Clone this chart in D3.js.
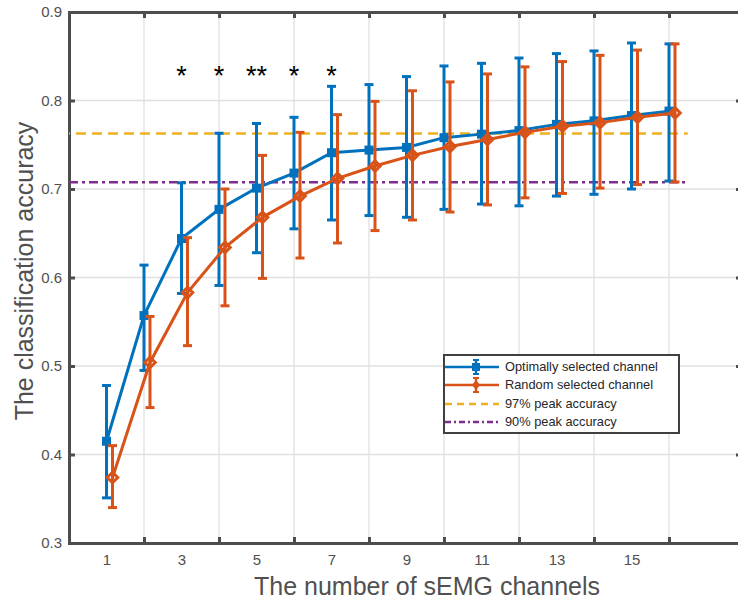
<!DOCTYPE html>
<html><head><meta charset="utf-8">
<script src="https://cdn.jsdelivr.net/npm/d3@7"></script>
<style>body{margin:0;background:#fff}svg{display:block}text{font-family:"Liberation Sans",Arial,sans-serif}</style>
</head><body>
<svg id="c" width="738" height="601"></svg>
<script>
const channels = [1,2,3,4,5,6,7,8,9,10,11,12,13,14,15,16];
const optMean  = [0.415,0.557,0.644,0.677,0.701,0.718,0.741,0.744,0.747,0.758,0.762,0.766,0.773,0.777,0.783,0.788];
const optUpper = [0.478,0.614,0.707,0.763,0.774,0.781,0.816,0.818,0.827,0.839,0.842,0.848,0.853,0.856,0.865,0.864];
const optLower = [0.351,0.495,0.582,0.591,0.628,0.655,0.665,0.670,0.668,0.677,0.683,0.681,0.692,0.694,0.700,0.709];
const rndMean  = [0.374,0.504,0.583,0.634,0.668,0.692,0.712,0.726,0.738,0.748,0.756,0.764,0.771,0.775,0.781,0.786];
const rndUpper = [0.410,0.556,0.645,0.700,0.738,0.764,0.784,0.799,0.811,0.821,0.830,0.838,0.844,0.851,0.857,0.864];
const rndLower = [0.340,0.453,0.523,0.568,0.599,0.622,0.639,0.653,0.665,0.674,0.682,0.690,0.695,0.701,0.705,0.708];
const peak97 = 0.7627, peak90 = 0.7076;
const sigX = [3,4,5,6,7];
const sigLabels = ["*","*","**","*","*"];
const sigLevel = 0.835;
const yTicks = [0.3,0.4,0.5,0.6,0.7,0.8,0.9];
const xGridTicks = [2,4,6,8,10,12,14,16];
const xTickLabels = [1,3,5,7,9,11,13,15];
const legendLabels = ["Optimally selected channel","Random selected channel","97% peak accuracy","90% peak accuracy"];

const BLUE="#0072BD", ORANGE="#D95319", YEL="#EDB120", PUR="#7E2F8E", AX="#4d4d4d";
const svg = d3.select("#c");
const x = d3.scaleLinear().domain([0,18]).range([69,744]);
const y = d3.scaleLinear().domain([0.3,0.9]).range([543,12]);
const L=69, R=744, T=12, B=543;

// grid
svg.append("g").selectAll("line").data(yTicks.slice(1,-1)).join("line")
  .attr("x1",L).attr("x2",R).attr("y1",d=>y(d)).attr("y2",d=>y(d))
  .attr("stroke","#e0e0e0").attr("stroke-width",1.3);
svg.append("g").selectAll("line").data(xGridTicks).join("line")
  .attr("x1",d=>x(d)).attr("x2",d=>x(d)).attr("y1",T).attr("y2",B)
  .attr("stroke","#e0e0e0").attr("stroke-width",1.3);

// axes with inward ticks
const gB = svg.append("g").attr("transform",`translate(0,${B})`)
  .call(d3.axisTop(x).tickValues(xGridTicks).tickSize(6).tickFormat(""));
const gT = svg.append("g").attr("transform",`translate(0,${T})`)
  .call(d3.axisBottom(x).tickValues(xGridTicks).tickSize(6).tickFormat(""));
const gL = svg.append("g").attr("transform",`translate(${L},0)`)
  .call(d3.axisRight(y).tickValues(yTicks).tickSize(6).tickFormat(""));
const gR = svg.append("g").attr("transform",`translate(${R},0)`)
  .call(d3.axisLeft(y).tickValues(yTicks).tickSize(8).tickFormat(""));
[gB,gT,gL,gR].forEach(g=>{
  g.select(".domain").attr("stroke",AX).attr("stroke-width",3);
  g.selectAll(".tick line").attr("stroke",AX).attr("stroke-width",3);
});
// tick labels
const gXL = svg.append("g").attr("transform",`translate(0,${B})`)
  .call(d3.axisBottom(x).tickValues(xTickLabels).tickSize(0).tickPadding(11).tickFormat(d3.format("d")));
gXL.select(".domain").remove();
gXL.selectAll("text").attr("font-size",15).attr("fill","#505050").attr("font-family","Liberation Sans, Arial, sans-serif");
const gYL = svg.append("g").attr("transform",`translate(${L},0)`)
  .call(d3.axisLeft(y).tickValues(yTicks).tickSize(0).tickPadding(7).tickFormat(d3.format(".1f")));
gYL.select(".domain").remove();
gYL.selectAll("text").attr("font-size",15).attr("fill","#505050").attr("font-family","Liberation Sans, Arial, sans-serif");

// reference lines
svg.append("line").attr("x1",x(0)).attr("x2",x(16.5)).attr("y1",y(peak97)).attr("y2",y(peak97))
  .attr("stroke",YEL).attr("stroke-width",2.6).attr("stroke-dasharray","10,6").attr("stroke-dashoffset",-7);
svg.append("line").attr("x1",x(0)).attr("x2",x(16.5)).attr("y1",y(peak90)).attr("y2",y(peak90))
  .attr("stroke",PUR).attr("stroke-width",2.6).attr("stroke-dasharray","9,4,3,4");

function series(mean,up,lo,color,off,marker){
  const g = svg.append("g");
  const xs = channels.map(c=>x(c+off));
  g.append("path").attr("d",d3.line()(channels.map((c,i)=>[xs[i],y(mean[i])])))
    .attr("fill","none").attr("stroke",color).attr("stroke-width",3);
  channels.forEach((c,i)=>{
    g.append("line").attr("x1",xs[i]).attr("x2",xs[i]).attr("y1",y(up[i])).attr("y2",y(lo[i]))
      .attr("stroke",color).attr("stroke-width",3);
    [up[i],lo[i]].forEach(v=>g.append("line").attr("x1",xs[i]-4.5).attr("x2",xs[i]+4.5)
      .attr("y1",y(v)).attr("y2",y(v)).attr("stroke",color).attr("stroke-width",3));
    if(marker==="square"){
      g.append("rect").attr("x",xs[i]-4.5).attr("y",y(mean[i])-4.5).attr("width",9).attr("height",9).attr("fill",color);
    } else {
      g.append("path").attr("d",d3.symbol(d3.symbolDiamond2,70)())
        .attr("transform",`translate(${xs[i]},${y(mean[i])})`)
        .attr("fill","none").attr("stroke",color).attr("stroke-width",3);
    }
  });
}
series(optMean,optUpper,optLower,BLUE,0,"square");
series(rndMean,rndUpper,rndLower,ORANGE,0.16,"diamond");

// significance markers
svg.append("g").selectAll("text").data(sigX).join("text")
  .attr("x",d=>x(d)).attr("y",y(sigLevel)).attr("dy","0.57em")
  .attr("text-anchor","middle").attr("font-size",27).attr("fill","#000")
  .text((d,i)=>sigLabels[i]);

// axis titles
svg.append("text").attr("x",427).attr("y",595).attr("text-anchor","middle")
  .attr("font-size",25).attr("fill","#505050").text("The number of sEMG channels");
svg.append("text").attr("transform","translate(33,271) rotate(-90)").attr("text-anchor","middle")
  .attr("font-size",25).attr("fill","#505050").text("The classification accuracy");

// legend
const lg = svg.append("g");
lg.append("rect").attr("x",444).attr("y",355).attr("width",235).attr("height",78)
  .attr("fill","#fff").attr("stroke","#404040").attr("stroke-width",2);
const rowsY=[367,385,404,422];
const styles=[{c:BLUE,d:null},{c:ORANGE,d:null},{c:YEL,d:"7,5"},{c:PUR,d:"6,3,2,3"}];
legendLabels.forEach((t,i)=>{
  const ln = lg.append("line").attr("x1",445).attr("x2",499).attr("y1",rowsY[i]).attr("y2",rowsY[i])
    .attr("stroke",styles[i].c).attr("stroke-width",2.5);
  if(styles[i].d) ln.attr("stroke-dasharray",styles[i].d);
  if(i===0){
    lg.append("line").attr("x1",476).attr("x2",476).attr("y1",rowsY[i]-7).attr("y2",rowsY[i]+7).attr("stroke",BLUE).attr("stroke-width",2.5);
    [-7,7].forEach(o=>lg.append("line").attr("x1",473).attr("x2",479).attr("y1",rowsY[i]+o).attr("y2",rowsY[i]+o).attr("stroke",BLUE).attr("stroke-width",2));
    lg.append("rect").attr("x",472).attr("y",rowsY[i]-4).attr("width",8).attr("height",8).attr("fill",BLUE);
  }
  if(i===1){
    lg.append("line").attr("x1",476).attr("x2",476).attr("y1",rowsY[i]-7).attr("y2",rowsY[i]+7).attr("stroke",ORANGE).attr("stroke-width",2.5);
    [-7,7].forEach(o=>lg.append("line").attr("x1",473).attr("x2",479).attr("y1",rowsY[i]+o).attr("y2",rowsY[i]+o).attr("stroke",ORANGE).attr("stroke-width",2));
    lg.append("path").attr("d",d3.symbol(d3.symbolDiamond2,50)()).attr("transform",`translate(476,${rowsY[i]})`).attr("fill",ORANGE);
  }
  lg.append("text").attr("x",505).attr("y",rowsY[i]).attr("dy","0.35em")
    .attr("font-size",12.8).attr("fill","#262626").text(t);
});
</script>
</body></html>
